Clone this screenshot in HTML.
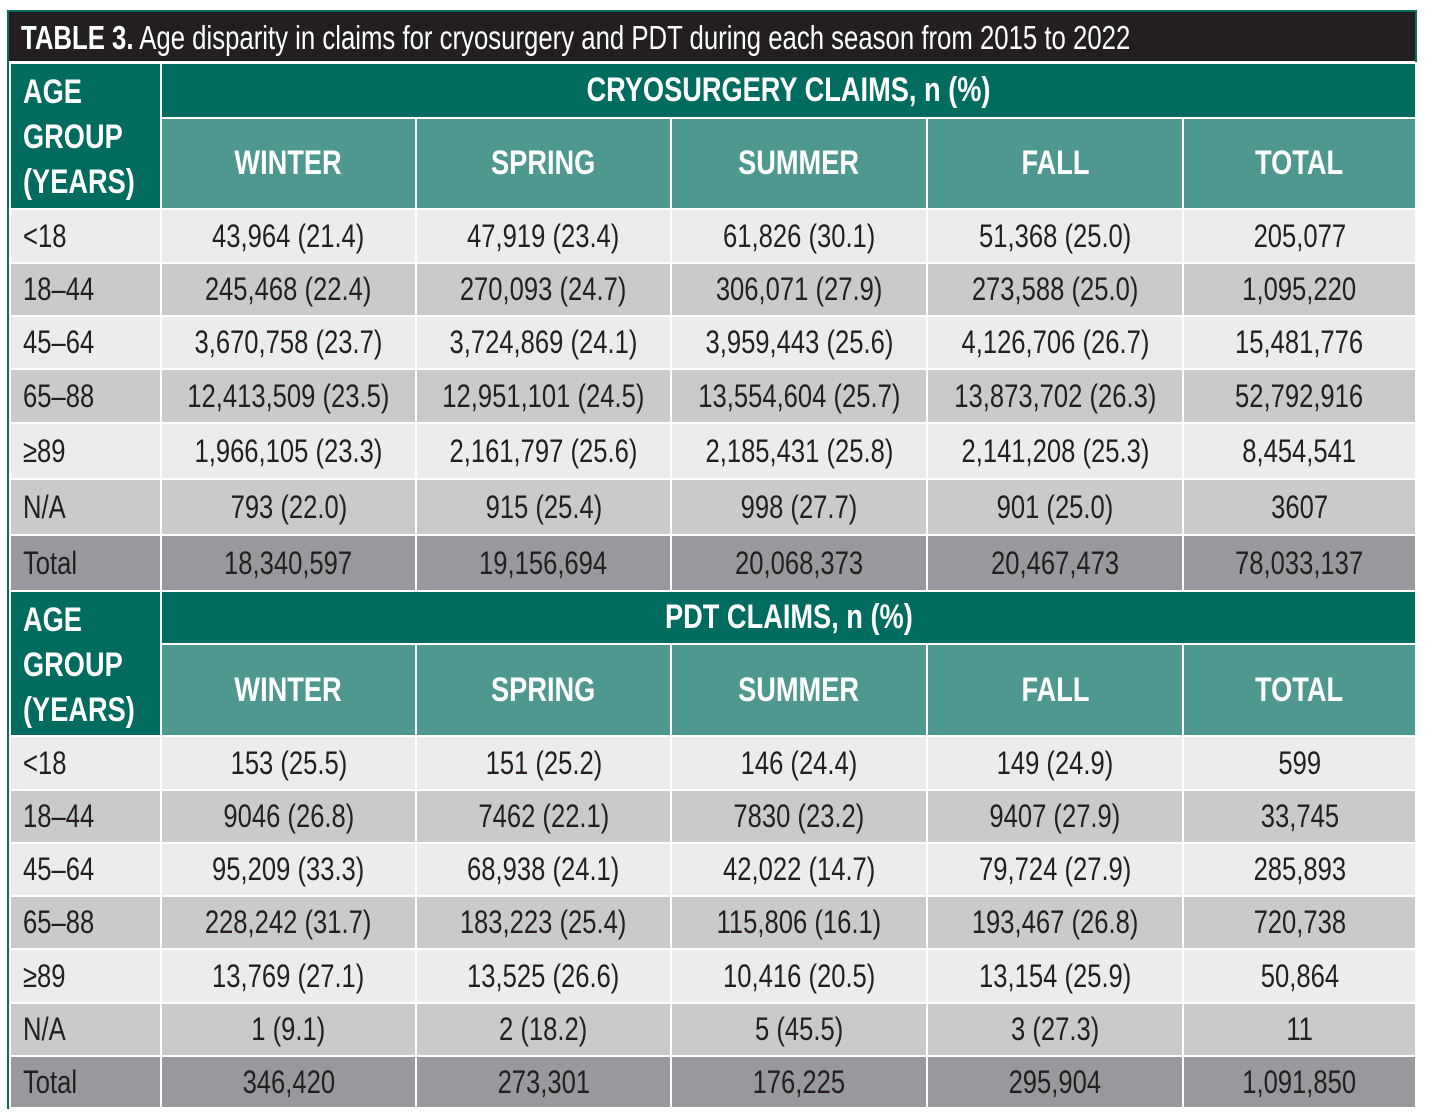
<!DOCTYPE html>
<html><head><meta charset="utf-8"><style>
html,body{margin:0;padding:0;background:#fff;width:1433px;height:1120px;overflow:hidden}
.frame{position:absolute;left:7px;top:10px;width:1406px;height:1095px;border:2px solid #0a6b60;background:#fff}
.title{position:absolute;left:9px;top:12px;width:1406px;height:49px;background:#231f20;color:#fff;font-family:"Liberation Sans",sans-serif;font-size:33px;line-height:52px;padding-left:12px;box-sizing:border-box;white-space:nowrap;overflow:hidden}
.title span{display:inline-block;transform:scaleX(0.78);transform-origin:left center}
table{position:absolute;left:9px;border-collapse:collapse;table-layout:fixed;font-family:"Liberation Sans",sans-serif;font-size:32px;color:#231f20}
td{border:2px solid #fff;text-align:center;padding:0;white-space:nowrap;overflow:hidden}
td span{display:inline-block;transform:scaleX(0.8);margin:0 -60px}
td.l{text-align:left;padding-left:12px}
td.l span{transform-origin:left center;margin:0}
.h{background:#006b5f;color:#fff;font-weight:bold;font-size:34px}
.h2{background:#4e9890;color:#fff;font-weight:bold;font-size:34px}
.ag{background:#006b5f;color:#fff;font-weight:bold;font-size:34px;text-align:left;padding-left:12px;line-height:45px;vertical-align:top;padding-top:6px}
.ag span{transform-origin:left top;margin:0}
tr.a td{background:#ebecee}
tr.b td{background:#c9cacc}
tr.t td{background:#98999c}
</style></head><body>
<div class="frame"></div>
<div class="title"><span><b>TABLE 3.</b> Age disparity in claims for cryosurgery and PDT during each season from 2015 to 2022</span></div>

<table style="top:62px;width:1406px">
<colgroup><col style="width:151px"><col style="width:255px"><col style="width:255px"><col style="width:256px"><col style="width:256px"><col style="width:233px"></colgroup>
<tr style="height:55px"><td class="ag" rowspan="2"><span>AGE<br>GROUP<br>(YEARS)</span></td><td class="h" colspan="5"><span>CRYOSURGERY CLAIMS, n (%)</span></td></tr>
<tr style="height:91px"><td class="h2"><span>WINTER</span></td><td class="h2"><span>SPRING</span></td><td class="h2"><span>SUMMER</span></td><td class="h2"><span>FALL</span></td><td class="h2"><span>TOTAL</span></td></tr>
<tr class="a" style="height:54px"><td class="l"><span>&lt;18</span></td><td><span>43,964 (21.4)</span></td><td><span>47,919 (23.4)</span></td><td><span>61,826 (30.1)</span></td><td><span>51,368 (25.0)</span></td><td><span>205,077</span></td></tr>
<tr class="b" style="height:53px"><td class="l"><span>18–44</span></td><td><span>245,468 (22.4)</span></td><td><span>270,093 (24.7)</span></td><td><span>306,071 (27.9)</span></td><td><span>273,588 (25.0)</span></td><td><span>1,095,220</span></td></tr>
<tr class="a" style="height:53px"><td class="l"><span>45–64</span></td><td><span>3,670,758 (23.7)</span></td><td><span>3,724,869 (24.1)</span></td><td><span>3,959,443 (25.6)</span></td><td><span>4,126,706 (26.7)</span></td><td><span>15,481,776</span></td></tr>
<tr class="b" style="height:54px"><td class="l"><span>65–88</span></td><td><span>12,413,509 (23.5)</span></td><td><span>12,951,101 (24.5)</span></td><td><span>13,554,604 (25.7)</span></td><td><span>13,873,702 (26.3)</span></td><td><span>52,792,916</span></td></tr>
<tr class="a" style="height:56px"><td class="l"><span>≥89</span></td><td><span>1,966,105 (23.3)</span></td><td><span>2,161,797 (25.6)</span></td><td><span>2,185,431 (25.8)</span></td><td><span>2,141,208 (25.3)</span></td><td><span>8,454,541</span></td></tr>
<tr class="b" style="height:56px"><td class="l"><span>N/A</span></td><td><span>793 (22.0)</span></td><td><span>915 (25.4)</span></td><td><span>998 (27.7)</span></td><td><span>901 (25.0)</span></td><td><span>3607</span></td></tr>
<tr class="t" style="height:56px"><td class="l"><span>Total</span></td><td><span>18,340,597</span></td><td><span>19,156,694</span></td><td><span>20,068,373</span></td><td><span>20,467,473</span></td><td><span>78,033,137</span></td></tr>
</table>

<table style="top:590px;width:1406px">
<colgroup><col style="width:151px"><col style="width:255px"><col style="width:255px"><col style="width:256px"><col style="width:256px"><col style="width:233px"></colgroup>
<tr style="height:53px"><td class="ag" rowspan="2"><span>AGE<br>GROUP<br>(YEARS)</span></td><td class="h" colspan="5"><span>PDT CLAIMS, n (%)</span></td></tr>
<tr style="height:92px"><td class="h2"><span>WINTER</span></td><td class="h2"><span>SPRING</span></td><td class="h2"><span>SUMMER</span></td><td class="h2"><span>FALL</span></td><td class="h2"><span>TOTAL</span></td></tr>
<tr class="a" style="height:54px"><td class="l"><span>&lt;18</span></td><td><span>153 (25.5)</span></td><td><span>151 (25.2)</span></td><td><span>146 (24.4)</span></td><td><span>149 (24.9)</span></td><td><span>599</span></td></tr>
<tr class="b" style="height:53px"><td class="l"><span>18–44</span></td><td><span>9046 (26.8)</span></td><td><span>7462 (22.1)</span></td><td><span>7830 (23.2)</span></td><td><span>9407 (27.9)</span></td><td><span>33,745</span></td></tr>
<tr class="a" style="height:53px"><td class="l"><span>45–64</span></td><td><span>95,209 (33.3)</span></td><td><span>68,938 (24.1)</span></td><td><span>42,022 (14.7)</span></td><td><span>79,724 (27.9)</span></td><td><span>285,893</span></td></tr>
<tr class="b" style="height:53px"><td class="l"><span>65–88</span></td><td><span>228,242 (31.7)</span></td><td><span>183,223 (25.4)</span></td><td><span>115,806 (16.1)</span></td><td><span>193,467 (26.8)</span></td><td><span>720,738</span></td></tr>
<tr class="a" style="height:54px"><td class="l"><span>≥89</span></td><td><span>13,769 (27.1)</span></td><td><span>13,525 (26.6)</span></td><td><span>10,416 (20.5)</span></td><td><span>13,154 (25.9)</span></td><td><span>50,864</span></td></tr>
<tr class="b" style="height:53px"><td class="l"><span>N/A</span></td><td><span>1 (9.1)</span></td><td><span>2 (18.2)</span></td><td><span>5 (45.5)</span></td><td><span>3 (27.3)</span></td><td><span>11</span></td></tr>
<tr class="t" style="height:52px"><td class="l"><span>Total</span></td><td><span>346,420</span></td><td><span>273,301</span></td><td><span>176,225</span></td><td><span>295,904</span></td><td><span>1,091,850</span></td></tr>
</table>
</body></html>
